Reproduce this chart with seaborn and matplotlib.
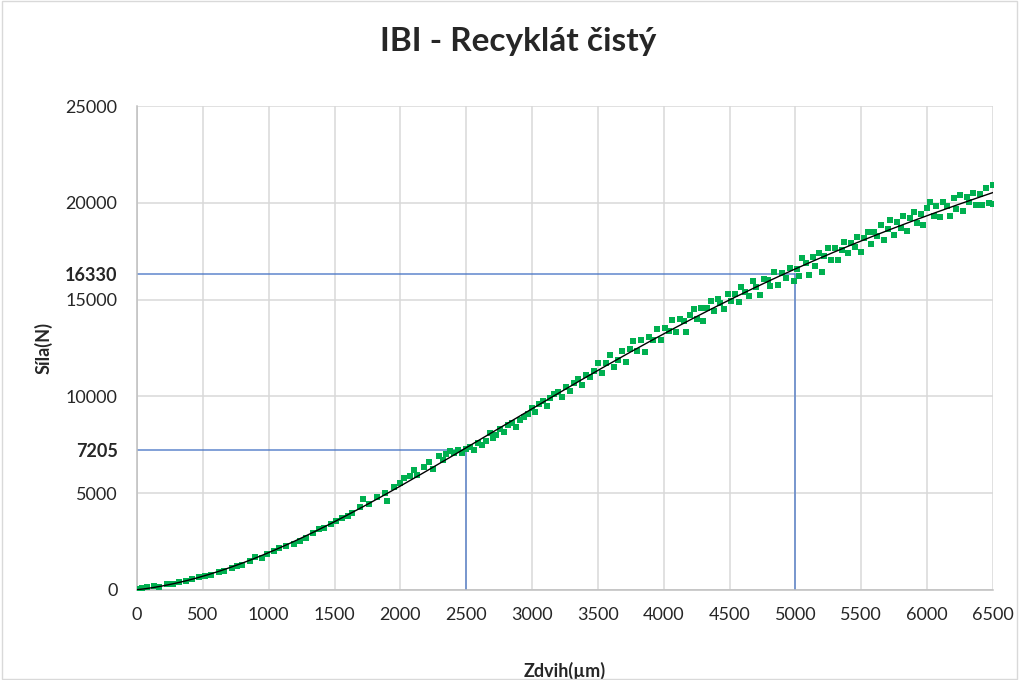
import matplotlib
matplotlib.use('Agg')
import matplotlib.pyplot as plt
import seaborn as sns
import numpy as np
import pandas as pd
from matplotlib.patches import Rectangle

# measured points: stroke (um) vs force (N)
zdvih_um = [
    0, 40, 80, 130, 170, 230, 270, 320, 370, 420, 470, 520, 560, 620, 660, 720, 760, 800,
    860, 900, 950, 990, 1040, 1080, 1130, 1190, 1240, 1280, 1340, 1380, 1420, 1470, 1510,
    1560, 1600, 1630, 1690, 1720, 1760, 1820, 1880, 1900, 1950, 2000, 2030, 2070, 2100,
    2130, 2180, 2220, 2250, 2290, 2320, 2350, 2380, 2410, 2440, 2470, 2500,
    2530, 2560, 2590, 2620, 2650, 2680, 2700, 2730, 2760, 2790, 2820, 2850, 2880, 2910,
    2940, 2970, 3000, 3020, 3050, 3080, 3110, 3140, 3170, 3200, 3230, 3260, 3290, 3320,
    3350, 3380, 3410, 3440, 3470, 3500, 3530, 3560, 3590, 3620, 3650, 3680, 3710, 3740,
    3770, 3800, 3830, 3860, 3890, 3920, 3950, 3980,
    4010, 4040, 4060, 4090, 4120, 4150, 4170, 4200, 4230, 4250, 4280, 4300, 4330, 4360,
    4380, 4410, 4430, 4460, 4490, 4510, 4540, 4570, 4590, 4620, 4650, 4680, 4700, 4730,
    4760, 4790, 4810, 4840, 4870, 4900, 4930, 4960, 4990,
    5010, 5030, 5050, 5080, 5100, 5130, 5150, 5180, 5200, 5220, 5250, 5270, 5300, 5320,
    5350, 5370, 5400, 5420, 5450, 5470, 5500, 5520, 5550, 5570, 5600, 5620, 5650, 5670,
    5700, 5720, 5750, 5770, 5800, 5820, 5850, 5870, 5900, 5920, 5950, 5970, 6000, 6020,
    6050, 6070, 6100, 6120, 6150, 6170, 6200, 6220, 6250, 6270, 6300, 6320, 6350, 6370,
    6400, 6420, 6450, 6470, 6500, 6500,
]
sila_n = [
    60, 90, 130, 180, 160, 330, 300, 400, 470, 560, 650, 700, 790, 920, 1000, 1150, 1250, 1300,
    1500, 1700, 1650, 1850, 2000, 2150, 2250, 2400, 2550, 2700, 2950, 3150, 3200, 3400, 3550,
    3700, 3800, 4000, 4300, 4700, 4450, 4800, 5000, 4600, 5300, 5550, 5800, 5900, 6200,
    5950, 6350, 6600, 6250, 6900, 6700, 7000, 7200, 7100, 7250, 7050, 7300,
    7400, 7250, 7600, 7500, 7700, 8100, 7850, 8000, 8300, 8150, 8500, 8650, 8400, 8800,
    8950, 9100, 9400, 9200, 9600, 9750, 9500, 9900, 10100, 10250, 9950, 10500, 10300, 10700,
    10900, 10600, 11100, 11000, 11300, 11750, 11210, 11720, 12140, 11500, 11860, 12370, 11780, 12450,
    12860, 12370, 12930, 12290, 13050, 12910, 13460, 12930,
    13530, 13380, 13950, 13350, 14000, 13910, 13330, 14230, 14530, 14000, 14550, 13920, 14570, 14920,
    14390, 15040, 14810, 14510, 15270, 14930, 15310, 14900, 15650, 15380, 15170, 15950, 15660, 15240,
    16080, 16010, 15720, 16450, 15740, 16370, 16100, 16640, 15970,
    16560, 16220, 17140, 16880, 16290, 17180, 16750, 17390, 16450, 17260, 17660, 17070, 17660, 17070,
    17560, 17980, 17420, 17930, 17730, 18240, 17450, 18160, 18500, 17860, 18500, 18260, 18850, 18060,
    18650, 19110, 18350, 19010, 18700, 19310, 18550, 19210, 19500, 18960, 19400, 18860, 19750, 20030,
    19330, 19820, 19270, 20050, 19810, 19340, 20240, 19670, 20380, 19560, 20310, 20040, 20500, 19880,
    20430, 19870, 20770, 20000, 20900, 19950,
]

ref_zdvih = [2500, 5000]
ref_sila = [7205, 16330]

x_ticks = list(range(0, 6501, 500))
y_ticks = [0, 5000, 10000, 15000, 20000, 25000]

df = pd.DataFrame({"zdvih": zdvih_um, "sila": sila_n})

sns.set_theme(style="white")
plt.rcParams['font.family'] = ['Lato', 'DejaVu Sans']

fig = plt.figure(figsize=(10.19, 6.8), dpi=100)
ax = fig.add_axes([0.1344, 0.1324, 0.8401, 0.7117])

# polynomial trend line fitted to the points
coef = np.polyfit(df["zdvih"], df["sila"], 4)
xs = np.linspace(0, 6500, 300)
trend = pd.DataFrame({"zdvih": xs, "sila": np.polyval(coef, xs)})

for rx, ry in zip(ref_zdvih, ref_sila):
    ax.plot([0, rx], [ry, ry], color="#4472C4", lw=1.1, alpha=0.85, zorder=2)
    ax.plot([rx, rx], [0, ry], color="#4472C4", lw=1.1, alpha=0.85, zorder=2)

sns.scatterplot(data=df, x="zdvih", y="sila", marker="s", s=24, color="#00B050",
                linewidth=0, ax=ax, zorder=3)
sns.lineplot(data=trend, x="zdvih", y="sila", color="black", lw=1, ax=ax, zorder=4)

ax.set_xlim(0, 6500)
ax.set_ylim(0, 25000)
ax.set_xticks(x_ticks)
ax.set_yticks(y_ticks)
ax.set_yticks(ref_sila, minor=True)
ax.set_yticklabels([str(v) for v in ref_sila], minor=True, fontweight="bold")
ax.tick_params(axis="both", which="both", length=0, labelsize=13, colors="#262626")
ax.tick_params(axis="x", pad=12)
ax.tick_params(axis="y", which="both", pad=14)

ax.grid(True, which="major", color="#D9D9D9", lw=1.1)
ax.set_axisbelow(True)
for side in ["top", "right"]:
    ax.spines[side].set_visible(False)
for side in ["left", "bottom"]:
    ax.spines[side].set_color("#BFBFBF")
    ax.spines[side].set_linewidth(1.1)

ax.set_xlabel("Zdvih(µm)", fontsize=13, fontweight="bold", color="#262626", labelpad=28)
ax.set_ylabel("Síla(N)", fontsize=13, fontweight="bold", color="#262626", labelpad=9)
fig.suptitle("IBI - Recyklát čistý", fontsize=24, fontweight="bold", color="#262626",
             x=0.509, y=0.96)

fig.patches.append(Rectangle((0.002, 0.002), 0.996, 0.996, transform=fig.transFigure,
                             fill=False, edgecolor="#D9D9D9", lw=1))

fig.savefig("out.png", dpi=100)
